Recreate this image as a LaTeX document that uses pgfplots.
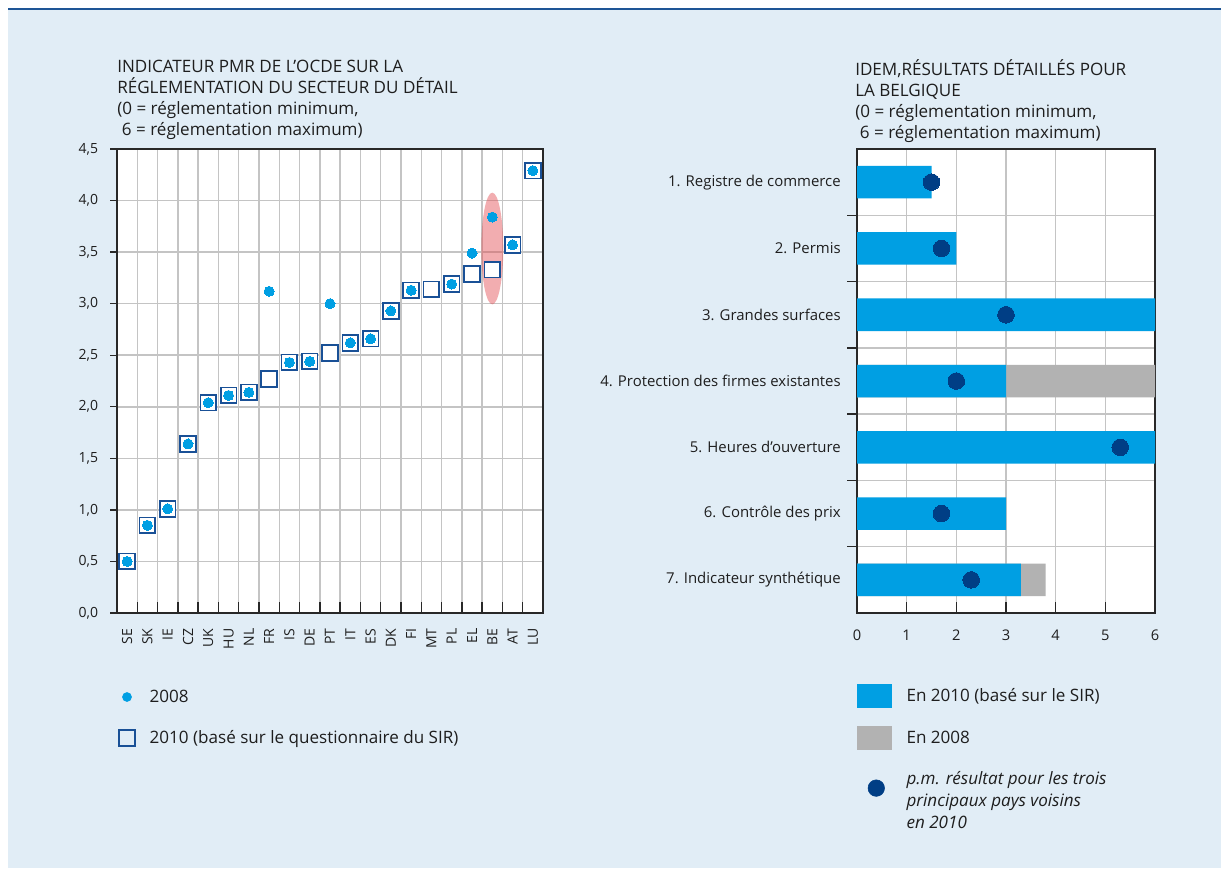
\documentclass[border=0pt]{standalone}
\usepackage{fontspec}
\setmainfont{Open Sans}
\usepackage{pgfplots}
\usepackage{pgfplotstable}
\pgfplotsset{compat=1.18}
\definecolor{bg}{RGB}{225,237,246}
\definecolor{topline}{RGB}{30,85,150}
\definecolor{cyanb}{RGB}{0,159,227}
\definecolor{sqblue}{RGB}{25,80,150}
\definecolor{darkdot}{RGB}{0,62,133}
\definecolor{gridg}{RGB}{196,196,196}
\definecolor{barg}{RGB}{178,178,178}
\definecolor{ell}{RGB}{227,75,80}
\definecolor{axisc}{RGB}{40,40,40}
\definecolor{txt}{RGB}{30,30,30}
\newcommand\bodyfont{\fontsize{12.8}{15.75}\selectfont}
\newcommand\catfont{\fontsize{11.2}{14}\selectfont}
\newcommand\tickfont{\fontsize{10.5}{12}\selectfont}

\pgfplotstableread{
x v10 v08
0 0.50 0.50
1 0.85 0.85
2 1.01 1.01
3 1.64 1.64
4 2.04 2.04
5 2.11 2.11
6 2.14 2.14
7 2.27 3.12
8 2.43 2.43
9 2.44 2.44
10 2.52 3.00
11 2.62 2.62
12 2.66 2.66
13 2.93 2.93
14 3.13 3.13
15 3.14 nan
16 3.19 3.19
17 3.29 3.49
18 3.33 3.84
19 3.57 3.57
20 4.29 4.29
}\pmr

\pgfplotstableread{
y blue dot
1 1.5 1.5
2 2.0 1.7
3 6.0 3.0
4 3.0 2.0
5 6.0 5.3
6 3.0 1.7
7 3.3 2.3
}\belg

\begin{document}
\begin{tikzpicture}
\useasboundingbox (0pt,0pt) rectangle (915.75pt,-651pt);
\fill[white] (0pt,0pt) rectangle (915.75pt,-651pt);
\fill[bg] (6pt,-7.6pt) rectangle (915.75pt,-651pt);
\draw[topline, line width=1.5pt] (6pt,-7.1pt) -- (915.75pt,-7.1pt);

\node[anchor=north west, align=left, inner sep=0pt, font=\bodyfont, text=txt] at (87.75pt,-44.6pt)
{INDICATEUR PMR DE L’OCDE SUR LA\\RÉGLEMENTATION DU SECTEUR DU DÉTAIL\\(0 = réglementation minimum,\\\hspace*{3.5pt}6 = réglementation maximum)};
\node[anchor=north west, align=left, inner sep=0pt, font=\bodyfont, text=txt] at (641.25pt,-44.6pt)
{IDEM,RÉSULTATS DÉTAILLÉS POUR\\LA BELGIQUE\\(0 = réglementation minimum,\\\hspace*{3.5pt}6 = réglementation maximum)};

% ---------------- left chart
\begin{axis}[
  at={(87.75pt,-459.75pt)}, anchor=south west,
  scale only axis, width=319.5pt, height=348pt,
  xmin=-0.5, xmax=20.5, ymin=0, ymax=4.5,
  xtick={0,...,20},
  xticklabels={SE,SK,IE,CZ,UK,HU,NL,FR,IS,DE,PT,IT,ES,DK,FI,MT,PL,EL,BE,AT,LU},
  major x tick style={draw=none},
  minor xtick={-0.5,0.5,...,20.5},
  xminorgrids=true,
  ytick={0,0.5,...,4.5},
  ymajorgrids=true,
  tick align=inside,
  xtick pos=bottom, ytick pos=left,
  major tick length=5.25pt, minor tick length=8.25pt,
  y tick style={xshift=-5.25pt},
  tick style={axisc, line width=1pt},
  grid style={gridg, line width=1.1pt},
  minor grid style={gridg, line width=1.1pt},
  axis line style={axisc, line width=1.2pt},
  axis background/.style={fill=white},
  yticklabel style={font=\tickfont, text=txt, inner sep=0pt, xshift=-14pt},
  xticklabel style={font=\tickfont, text=txt, inner sep=0pt, yshift=-11.5pt, rotate=90, anchor=east},
  /pgf/number format/use comma,
  /pgf/number format/fixed,
  /pgf/number format/fixed zerofill,
  /pgf/number format/precision=1,
  /pgf/number format/assume math mode=true,
  legend style={at={(axis description cs:-0.0047,-0.1552)}, anchor=north west,
    draw=none, fill=none, inner sep=0pt, outer sep=0pt,
    row sep=12.75pt, column sep=8pt, font=\bodyfont, text=txt,
    nodes={inner sep=0pt}},
  legend cell align=left,
]
\addplot[forget plot, only marks, mark=square*, mark size=5.9pt,
  mark options={draw=sqblue, fill=white, line width=1.3pt}] table[x=x,y=v10]{\pmr};
\addplot[forget plot, only marks, mark=*, mark size=3.75pt,
  mark options={draw=cyanb, fill=cyanb, line width=0pt}] table[x=x,y=v08]{\pmr};
\fill[ell, opacity=0.45] (axis cs:18,3.535) ellipse [x radius=8.25pt, y radius=41.9pt];
\addlegendimage{legend image code/.code={\path[draw=none,fill=none] (-9pt,-9pt) rectangle (9pt,9pt); \fill[cyanb] (0pt,0pt) circle (3.4pt);}}
\addlegendentry{2008}
\addlegendimage{legend image code/.code={\path[draw=none,fill=none] (-9pt,-9pt) rectangle (9pt,9pt); \draw[sqblue, line width=1.3pt, fill=none] (-5.9pt,-5.9pt) rectangle (5.9pt,5.9pt);}}
\addlegendentry{2010 (basé sur le questionnaire du SIR)}
\end{axis}

% ---------------- right chart
\begin{axis}[
  at={(642.75pt,-459.75pt)}, anchor=south west,
  scale only axis, width=223.5pt, height=348pt,
  xmin=0, xmax=6, ymin=0.5, ymax=7.5, y dir=reverse,
  xtick={0,...,6},
  xmajorgrids=true,
  ytick={1,...,7},
  yticklabels={1. Registre de commerce, 2. Permis, 3. Grandes surfaces, 4. Protection des firmes existantes, 5. Heures d’ouverture, 6. Contrôle des prix, 7. Indicateur synthétique},
  major y tick style={draw=none},
  minor ytick={1.5,2.5,...,6.5},
  yminorgrids=true,
  tick align=inside,
  xtick pos=bottom, ytick pos=left,
  major tick length=8.25pt, minor tick length=7.5pt,
  y tick style={xshift=-7.5pt},
  tick style={axisc, line width=1pt},
  grid style={gridg, line width=1.1pt},
  minor grid style={gridg, line width=1.1pt},
  axis line style={axisc, line width=1.2pt},
  axis background/.style={fill=white},
  yticklabel style={font=\catfont, text=txt, inner sep=0pt, xshift=-12pt},
  xticklabel style={font=\fontsize{11}{13}\selectfont, text=txt, inner sep=0pt, yshift=-12.5pt},
  /pgf/number format/assume math mode=true,
  legend style={at={(axis description cs:0,-0.152)}, anchor=north west,
    draw=none, fill=none, inner sep=0pt, outer sep=0pt,
    row sep=13.9pt, column sep=11.25pt, font=\bodyfont, text=txt,
    nodes={inner sep=0pt}},
  legend cell align=left,
]
\addplot[forget plot, xbar, bar width=24.4pt, bar shift=0pt, draw=none, fill=barg] coordinates {(6,4) (3.8,7)};
\addplot[forget plot, xbar, bar width=24.4pt, bar shift=0pt, draw=none, fill=cyanb] table[x=blue,y=y]{\belg};
\addplot[forget plot, only marks, mark=*, mark size=6.2pt, mark options={draw=darkdot, fill=darkdot, line width=0pt}] table[x=dot,y=y]{\belg};
\addlegendimage{legend image code/.code={\path[draw=none,fill=none] (-12.75pt,-9pt) rectangle (12.75pt,9pt); \fill[cyanb] (-12.75pt,-8.6pt) rectangle (12.75pt,8.6pt);}}
\addlegendentry{En 2010 (basé sur le SIR)}
\addlegendimage{legend image code/.code={\path[draw=none,fill=none] (-12.75pt,-9pt) rectangle (12.75pt,9pt); \fill[barg] (-12.75pt,-8.6pt) rectangle (12.75pt,8.6pt);}}
\addlegendentry{En 2008}
\addlegendimage{legend image code/.code={\path[draw=none,fill=none] (-12.75pt,-9pt) rectangle (12.75pt,9pt); \fill[darkdot] (1.5pt,0pt) circle (6.2pt);}}
\addlegendentry{{\fontsize{12.8}{16.5}\selectfont\itshape\begin{tabular}{@{}l@{}}p.m. résultat pour les trois\\principaux pays voisins\\en 2010\end{tabular}}}
\end{axis}
\end{tikzpicture}
\end{document}
